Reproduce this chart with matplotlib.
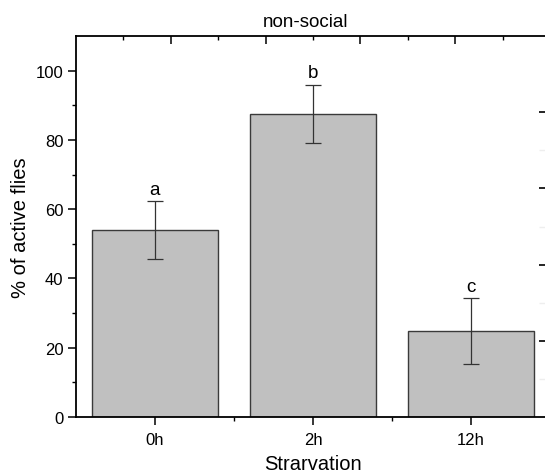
import matplotlib.pyplot as plt
import numpy as np

plt.rcParams['font.family'] = ['Liberation Sans', 'DejaVu Sans']

groups = ["0h", "2h", "12h"]
means = [54.0, 87.5, 24.8]
errors = [8.3, 8.4, 9.5]
letters = ["a", "b", "c"]

fig = plt.figure(figsize=(5.45, 4.77), dpi=100)
ax = fig.add_axes([0.1394, 0.1237, 0.8697, 0.7987])

x = np.arange(len(groups))
ax.bar(x, means, width=0.8, color="#c0c0c0", edgecolor="#3a3a3a", linewidth=1.0, zorder=2)
ax.errorbar(x, means, yerr=errors, fmt="none", ecolor="#333333", elinewidth=0.9,
            capsize=6, capthick=0.9, zorder=3)
for xi, m, e, t in zip(x, means, errors, letters):
    ax.text(xi, m + e + 1.0, t, ha="center", va="bottom", fontsize=13.5)

ax.set_xlim(-0.5, 2.5)
ax.set_ylim(0, 110)
ax.set_xticks(x)
ax.set_xticklabels(groups)
ax.set_xticks([0.5, 1.5], minor=True)
ax.set_yticks([0, 20, 40, 60, 80, 100])
ax.set_yticks([10, 30, 50, 70, 90], minor=True)
ax.tick_params(axis="both", which="major", direction="out", length=6, width=1.1, labelsize=12)
ax.tick_params(axis="both", which="minor", direction="out", length=3, width=1)
ax.tick_params(axis="x", pad=5)
ax.tick_params(axis="y", pad=3)
for s in ["left", "bottom", "top"]:
    ax.spines[s].set_linewidth(1.3)
ax.spines["right"].set_visible(False)

ax.set_xlabel("Strarvation", fontsize=14.5, labelpad=5)
ax.set_ylabel("% of active flies", fontsize=14.5, labelpad=4)
ax.set_title("non-social", fontsize=13.5, pad=7, x=0.485)

# top axis with its own ticks (inward)
top = ax.secondary_xaxis("top")
top.set_xticks([0.1, 0.7, 1.3, 1.9])
top.set_xticks([-0.2, 0.4, 1.0, 1.6, 2.2], minor=True)
top.tick_params(which="major", direction="in", length=6, width=1.1, labeltop=False)
top.tick_params(which="minor", direction="in", length=3, width=1)
top.spines["top"].set_visible(False)

# right axis ticks (spine off figure)
right = ax.twinx()
right.set_ylim(0, 110)
right.set_yticks([22, 44, 66, 88])
right.set_yticks([11, 33, 55, 77], minor=True)
right.tick_params(which="major", direction="in", length=8, width=1.2, labelright=False)
right.tick_params(which="minor", direction="in", length=8, width=1, color="#eeeeee")
for s in right.spines.values():
    s.set_visible(False)

fig.savefig("out.png", dpi=100)
